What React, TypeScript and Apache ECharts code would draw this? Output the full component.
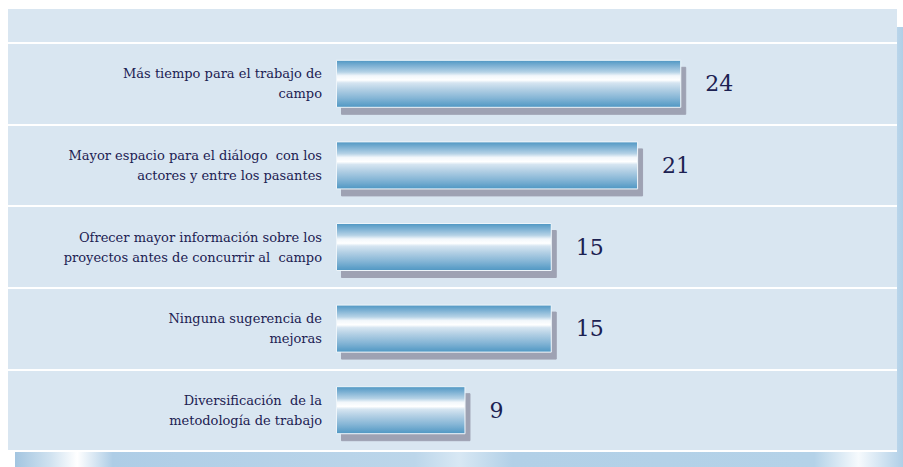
import React, { useEffect, useRef } from "react";
import * as echarts from "echarts";

const categories = [
  "Más tiempo para el trabajo de\ncampo",
  "Mayor espacio para el diálogo  con los\nactores y entre los pasantes",
  "Ofrecer mayor información sobre los\nproyectos antes de concurrir al  campo",
  "Ninguna sugerencia de\nmejoras",
  "Diversificación  de la\nmetodología de trabajo",
];
const values = [24, 21, 15, 15, 9];

export default function App() {
  const ref = useRef<HTMLDivElement>(null);
  useEffect(() => {
    if (!ref.current) return;
    const chart = echarts.init(ref.current, null, { renderer: "svg" });
    const textColor = "#1c2152";
    chart.setOption({
      animation: false,
      backgroundColor: "#ffffff",
      graphic: [
        {
          type: "rect",
          z: -20,
          silent: true,
          shape: { x: 15, y: 27, width: 888, height: 440 },
          style: {
            fill: {
              type: "linear",
              x: 0, y: 0, x2: 1, y2: 0,
              colorStops: [
                { offset: 0, color: "#a3c5e0" },
                { offset: 0.04, color: "#d0e2f0" },
                { offset: 0.07, color: "#ffffff" },
                { offset: 0.11, color: "#aecde6" },
                { offset: 0.45, color: "#bcd6ea" },
                { offset: 0.5, color: "#d8e8f4" },
                { offset: 0.56, color: "#b2d0e7" },
                { offset: 0.9, color: "#b4d2e8" },
                { offset: 0.95, color: "#f6fafd" },
                { offset: 1, color: "#b0cfe7" },
              ],
            },
          },
        },
        {
          type: "rect",
          z: -10,
          silent: true,
          shape: { x: 8, y: 9, width: 889, height: 442 },
          style: { fill: "#d9e6f1" },
        },
      ],
      grid: [
        { left: 8, right: 6, top: 43, bottom: 16 },
        { left: 336, right: 6, top: 43, bottom: 16 },
      ],
      xAxis: [
        { type: "value", gridIndex: 0, min: 0, max: 1, show: false },
        { type: "value", gridIndex: 1, min: 0, max: 39, show: false },
      ],
      yAxis: [
        {
          type: "category",
          gridIndex: 0,
          inverse: true,
          data: categories,
          axisLine: { show: false },
          axisTick: { show: false },
          axisLabel: { show: false },
          splitLine: { show: true, lineStyle: { color: "#ffffff", width: 2 } },
        },
        {
          type: "category",
          gridIndex: 1,
          inverse: true,
          data: categories,
          axisLine: { show: false },
          axisTick: { show: false },
          splitLine: { show: false },
          axisLabel: {
            color: textColor,
            fontFamily: "DejaVu Serif",
            fontSize: 13,
            lineHeight: 20,
            align: "right",
            margin: 14,
          },
        },
      ],
      series: [
        {
          type: "bar",
          xAxisIndex: 1,
          yAxisIndex: 1,
          data: values,
          barWidth: 48,
          itemStyle: {
            color: {
              type: "linear",
              x: 0, y: 0, x2: 0, y2: 1,
              colorStops: [
                { offset: 0, color: "#4f97c3" },
                { offset: 0.12, color: "#7fb2d4" },
                { offset: 0.25, color: "#b5d2e6" },
                { offset: 0.33, color: "#f2f7fb" },
                { offset: 0.42, color: "#ffffff" },
                { offset: 0.48, color: "#d6e5f1" },
                { offset: 0.62, color: "#b2cfe4" },
                { offset: 0.8, color: "#86b6d6" },
                { offset: 1, color: "#4f97c3" },
              ],
            },
            borderColor: "#eef5fa",
            borderWidth: 1,
            shadowColor: "#9ea2b3",
            shadowBlur: 0,
            shadowOffsetX: 5,
            shadowOffsetY: 7,
          },
          label: {
            show: true,
            position: "right",
            distance: 24,
            color: textColor,
            fontFamily: "DejaVu Serif",
            fontSize: 22,
          },
        },
      ],
    });
    return () => chart.dispose();
  }, []);
  return (
    <div
      ref={ref}
      style={{ position: "absolute", left: 0, top: 0, width: 903, height: 467 }}
    />
  );
}
